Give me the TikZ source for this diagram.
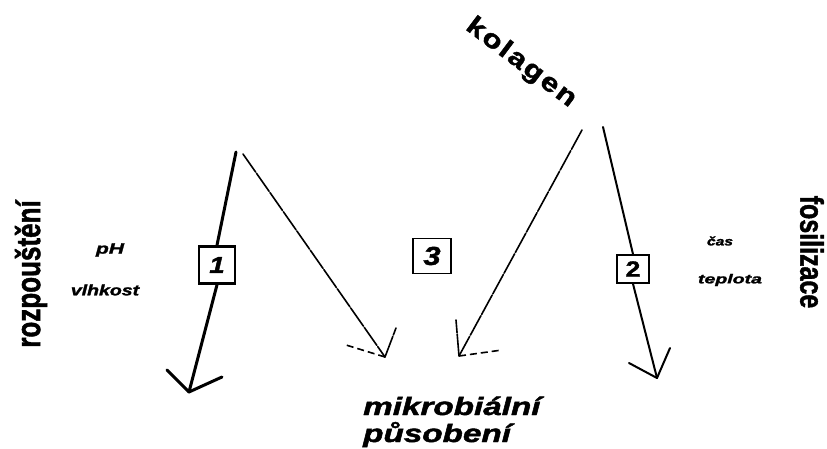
\documentclass[tikz,border=0pt]{standalone}
\usepackage{graphicx}
\usepackage{fontspec}
\setmainfont{Liberation Sans}[BoldFeatures={FakeBold=1.6},BoldItalicFeatures={FakeBold=1.6}]
\begin{document}
\begin{tikzpicture}[x=1pt,y=-1pt,
  numbox/.style={draw, inner sep=0pt, line width=#1},
  heavy/.style={line width=3pt, line cap=round},
  medium/.style={line width=2pt, line cap=round},
  sketch/.style={line width=1.6pt, line cap=round, dash pattern=on 22pt off 1.5pt},
  dashbarb/.style={line width=1.6pt, dash pattern=on 7pt off 4pt},
  lbl/.style={inner sep=0pt, font=\fontsize{15}{15}\selectfont\bfseries\itshape},
  side/.style={inner sep=0pt, font=\fontsize{26}{26}\selectfont\bfseries},
  bottom/.style={inner sep=0pt, anchor=base west, font=\fontsize{25}{25}\selectfont\bfseries\itshape}]
\useasboundingbox (0,0) rectangle (827,448);

% title on the slope
\node[inner sep=0pt, rotate=-37, font=\fontsize{26}{26}\selectfont\bfseries\addfontfeature{LetterSpace=7}]
  (kol) at (521,63) {\scalebox{1.2}[1]{kolagen}};

% numbered process boxes
\node[numbox=2.6pt, minimum width=36pt, minimum height=37pt,
      font=\fontsize{23}{23}\selectfont\bfseries\itshape] (b1) at (217,265) {\scalebox{1.2}[1]{1}};
\node[numbox=1.5pt, minimum width=38pt, minimum height=35pt,
      font=\fontsize{26}{26}\selectfont\bfseries\itshape] (b3) at (432,256) {\scalebox{1.2}[1]{3}};
\node[numbox=1.7pt, minimum width=32pt, minimum height=28pt,
      font=\fontsize{22}{22}\selectfont\bfseries] (b2) at (633,269) {\scalebox{1.2}[1]{2}};

% start and end points of the arrows
\coordinate (s1) at (236,152);
\coordinate (s3) at (243,154);
\coordinate (s4) at (582,130);
\coordinate (s2) at (603,127);
\coordinate (t1) at (189,392);
\coordinate (t3) at (385,357);
\coordinate (t4) at (459,356);
\coordinate (t2) at (657,378);

% arrow 1 (dissolution)
\draw[heavy] (s1) -- (b1.north);
\draw[heavy] (b1.south) -- (t1);
\draw[heavy] (t1) -- ++(-22,-22);
\draw[heavy] (t1) -- ++(33,-15);

% arrow 2 (fossilisation)
\draw[medium] (s2) -- (b2.north);
\draw[medium] (b2.south) -- (t2);
\draw[medium] (t2) -- ++(-28,-15);
\draw[medium] (t2) -- ++(13,-30);

% arrows towards microbial action
\draw[sketch] (s3) -- (t3);
\draw[dashbarb] (t3) -- ++(-39,-12);
\draw[sketch] (t3) -- ++(11,-29);
\draw[sketch] (s4) -- (t4);
\draw[sketch] (t4) -- ++(-3,-36);
\draw[dashbarb] (t4) -- ++(43,-6);

% factors
\node[lbl] (ph) at (110,250) {\scalebox{1.4}[1]{pH}};
\node[lbl] (vl) at (105,290) {\scalebox{1.3}[1]{vlhkost}};
\node[lbl, font=\fontsize{12}{12}\selectfont\bfseries\itshape] (cas) at (720,241) {\scalebox{1.3}[1]{čas}};
\node[lbl, font=\fontsize{13}{13}\selectfont\bfseries\itshape] (tep) at (730,280) {\scalebox{1.5}[1]{teplota}};

% side captions
\node[side, rotate=90] (roz) at (31,274) {\scalebox{1}[1.3]{rozpouštění}};
\node[side, rotate=-90, font=\fontsize{25}{25}\selectfont\bfseries] (fos) at (812,252) {\scalebox{1}[1.3]{fosilizace}};

% bottom caption
\node[bottom] (mik) at (363,415) {\scalebox{1.33}[1]{mikrobiální}};
\node[bottom] (pus) at (363,442) {\scalebox{1.33}[1]{působení}};
\end{tikzpicture}
\end{document}
